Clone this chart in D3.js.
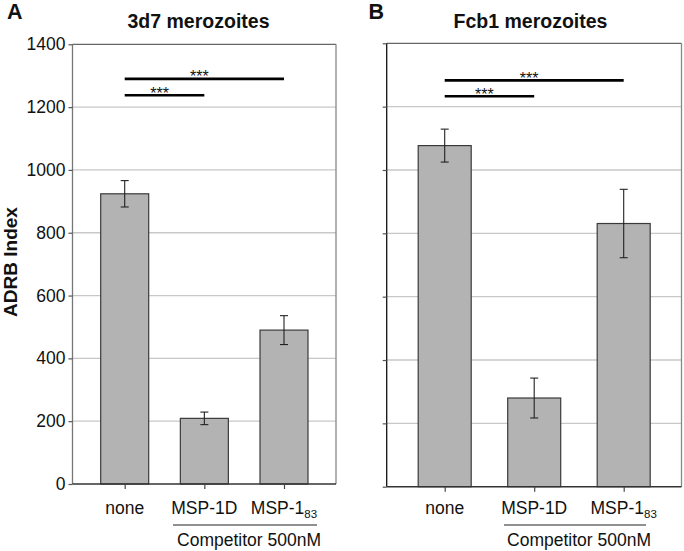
<!DOCTYPE html>
<html><head><meta charset="utf-8">
<script src="https://cdn.jsdelivr.net/npm/d3@7"></script>
<style>
html,body{margin:0;padding:0;background:#fff;}
svg{display:block;font-family:"Liberation Sans",Arial,sans-serif;}
</style></head>
<body>
<svg id="chart" width="684" height="551"></svg>
<script>
// ---- data ----
const categories = ["none", "MSP-1D", "MSP-1"];
const categorySubs = ["", "", "83"];
const yTicks = [0, 200, 400, 600, 800, 1000, 1200, 1400];
const mean3d7 = [924, 209, 490];
const err3d7 = [42, 20, 46];
const meanFcb1 = [1077, 280, 831];
const errFcb1 = [52, 63, 108];
const sig3d7 = [{from: 0, to: 2, y: 1290, label: "***"}, {from: 0, to: 1, y: 1238, label: "***"}];
const sigFcb1 = [{from: 0, to: 2, y: 1283, label: "***"}, {from: 0, to: 1, y: 1233, label: "***"}];
const panelLetters = ["A", "B"];
const panelTitles = ["3d7 merozoites", "Fcb1 merozoites"];
const groupLabel = "Competitor 500nM";
const yLabel = "ADRB Index";

const svg = d3.select("#chart");

const panels = [
  {letter: panelLetters[0], title: panelTitles[0], mean: mean3d7, err: err3d7, sig: sig3d7,
   left: 72.5, right: 336, top: 44.3, bottom: 484, c0: 124.7, c2: 284, bw: 48,
   axisColor: "#777", showLabels: true, letterX: 7, titleX: 198.5, groupX0: 173, groupX1: 317},
  {letter: panelLetters[1], title: panelTitles[1], mean: meanFcb1, err: errFcb1, sig: sigFcb1,
   left: 386.7, right: 681.5, top: 43.3, bottom: 486.7, c0: 444.7, c2: 623.7, bw: 53,
   axisColor: "#111", showLabels: false, letterX: 368.5, titleX: 530.5, groupX0: 504, groupX1: 646}
];

panels.forEach(p => {
  const g = svg.append("g");
  const x = d3.scalePoint().domain(categories).range([p.c0, p.c2]).padding(0);
  const y = d3.scaleLinear().domain([0, 1400]).range([p.bottom, p.top]);

  // gridlines
  g.selectAll("line.grid").data(yTicks.filter(t => t > 0 && t < 1400)).join("line")
    .attr("x1", p.left).attr("x2", p.right)
    .attr("y1", d => y(d)).attr("y2", d => y(d))
    .attr("stroke", "#c8c8c8").attr("stroke-width", 1.3);

  // frame top/right
  g.append("line").attr("x1", p.left).attr("x2", p.right).attr("y1", p.top).attr("y2", p.top)
    .attr("stroke", "#666").attr("stroke-width", 1.3);
  g.append("line").attr("x1", p.right).attr("x2", p.right).attr("y1", p.top).attr("y2", p.bottom)
    .attr("stroke", "#888").attr("stroke-width", 1.3);

  // bars
  g.selectAll("rect.bar").data(p.mean).join("rect")
    .attr("x", (d, i) => x(categories[i]) - p.bw / 2)
    .attr("width", p.bw)
    .attr("y", d => y(d))
    .attr("height", d => y(0) - y(d))
    .attr("fill", "#b3b3b3").attr("stroke", "#3a3a3a").attr("stroke-width", 1.2);

  // error bars
  const eb = g.selectAll("g.eb").data(p.mean).join("g");
  eb.append("line")
    .attr("x1", (d, i) => x(categories[i])).attr("x2", (d, i) => x(categories[i]))
    .attr("y1", (d, i) => y(d + p.err[i])).attr("y2", (d, i) => y(d - p.err[i]))
    .attr("stroke", "#222").attr("stroke-width", 1.1);
  [1, -1].forEach(s => {
    eb.append("line")
      .attr("x1", (d, i) => x(categories[i]) - 4).attr("x2", (d, i) => x(categories[i]) + 4)
      .attr("y1", (d, i) => y(d + s * p.err[i])).attr("y2", (d, i) => y(d + s * p.err[i]))
      .attr("stroke", "#222").attr("stroke-width", 1.1);
  });

  // y axis
  const yAxis = d3.axisLeft(y).tickValues(yTicks).tickSize(4).tickPadding(3)
    .tickFormat(p.showLabels ? d3.format("d") : () => "");
  const ya = g.append("g").attr("transform", `translate(${p.left},0)`).call(yAxis);
  ya.select(".domain").attr("stroke", p.axisColor).attr("stroke-width", 1.3).attr("d", `M0,${p.top}V${p.bottom}`);
  ya.selectAll(".tick line").attr("stroke", "#555").attr("stroke-width", 1.2);
  ya.selectAll(".tick text").attr("font-size", 17.5).attr("fill", "#111")
    .attr("font-family", "'Liberation Sans',Arial,sans-serif");

  // x axis
  const xa = g.append("g").attr("transform", `translate(0,${p.bottom})`)
    .call(d3.axisBottom(x).tickSize(5).tickFormat(""));
  xa.select(".domain").attr("stroke", "#333").attr("stroke-width", 1.4).attr("d", `M${p.left},0H${p.right}`);
  xa.selectAll(".tick line").attr("stroke", "#444").attr("stroke-width", 1.2);

  // category labels with subscript
  categories.forEach((c, i) => {
    const t = g.append("text").attr("x", x(c)).attr("y", 514).attr("text-anchor", "middle")
      .attr("font-size", 17.5).attr("fill", "#111");
    t.append("tspan").text(c);
    if (categorySubs[i]) t.append("tspan").attr("font-size", 11.5).attr("dy", 3.5).text(categorySubs[i]);
  });

  // group label
  g.append("line").attr("x1", p.groupX0).attr("x2", p.groupX1).attr("y1", 525).attr("y2", 525)
    .attr("stroke", "#222").attr("stroke-width", 1.1);
  g.append("text").attr("x", (p.groupX0 + p.groupX1) / 2 + 4).attr("y", 546).attr("text-anchor", "middle")
    .attr("font-size", 17.5).attr("fill", "#111").text(groupLabel);

  // significance
  p.sig.forEach(s => {
    const x1 = x(categories[s.from]), x2 = x(categories[s.to]);
    g.append("line").attr("x1", x1).attr("x2", x2).attr("y1", y(s.y)).attr("y2", y(s.y))
      .attr("stroke", "#000").attr("stroke-width", 2.6);
    g.append("text").attr("x", (x1 + x2) / 2 - 5).attr("y", y(s.y) + 3.5).attr("text-anchor", "middle")
      .attr("font-size", 16).attr("fill", "#111").text(s.label);
  });

  // panel letter and title
  svg.append("text").attr("x", p.letterX).attr("y", 18.5).attr("font-size", 21.5).attr("font-weight", "bold")
    .attr("fill", "#111").text(p.letter);
  svg.append("text").attr("x", p.titleX).attr("y", 28).attr("text-anchor", "middle")
    .attr("font-size", 19.5).attr("font-weight", "bold").attr("fill", "#111").text(p.title);
});

// y-axis label
svg.append("text").attr("transform", "translate(16.5,262) rotate(-90)").attr("text-anchor", "middle")
  .attr("font-size", 19).attr("font-weight", "bold").attr("fill", "#111").text(yLabel);
</script>
</body></html>
